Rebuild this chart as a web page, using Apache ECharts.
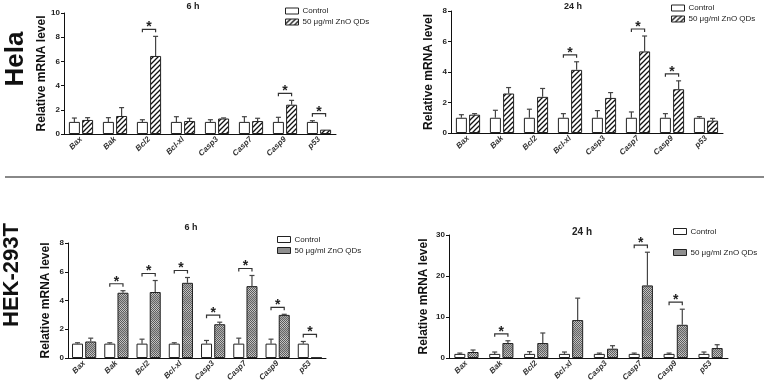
<!DOCTYPE html>
<html>
<head>
    <meta charset="utf-8">
    <title>mRNA level</title>
    <script src="https://cdn.jsdelivr.net/npm/echarts@6/dist/echarts.min.js"></script>
    <style>
        body { margin: 0; background: #fff; }
    </style>
</head>
<body>
<div id="main" style="width: 767px;height:385px;"></div>

<script type="text/javascript">
    // 基因
    var categories = ['Bax', 'Bak', 'Bcl2', 'Bcl-xl', 'Casp3', 'Casp7', 'Casp9', 'p53'];
    var legendNames = ['Control', '50 μg/ml ZnO QDs'];

    // Hela 6 h
    var helaCtrl6 = [1, 1, 1, 1, 1, 1, 1, 1];
    var helaCtrlErr6 = [0.32, 0.35, 0.18, 0.43, 0.18, 0.43, 0.38, 0.1];
    var helaTrt6 = [1.16, 1.49, 6.45, 1.07, 1.28, 1.07, 2.42, 0.36];
    var helaTrtErr6 = [0.19, 0.69, 1.62, 0.23, 0.05, 0.23, 0.36, 0];
    var helaSig6 = [0, 0, 1, 0, 0, 0, 1, 1];

    // Hela 24 h
    var helaCtrl24 = [1, 1, 1, 1, 1, 1, 1, 1];
    var helaCtrlErr24 = [0.2, 0.49, 0.56, 0.27, 0.47, 0.38, 0.27, 0.07];
    var helaTrt24 = [1.2, 2.59, 2.37, 4.14, 2.3, 5.35, 2.87, 0.81];
    var helaTrtErr24 = [0.07, 0.39, 0.55, 0.53, 0.35, 1.01, 0.55, 0.15];
    var helaSig24 = [0, 0, 0, 1, 0, 1, 1, 0];

    // HEK-293T 6 h
    var hekCtrl6 = [1, 1, 1, 1, 1, 1, 1, 1];
    var hekCtrlErr6 = [0.06, 0.06, 0.31, 0.06, 0.22, 0.38, 0.31, 0.15];
    var hekTrt6 = [1.15, 4.54, 4.59, 5.23, 2.35, 5.0, 3.0, 0.03];
    var hekTrtErr6 = [0.23, 0.14, 0.8, 0.37, 0.14, 0.74, 0.04, 0];
    var hekSig6 = [0, 1, 1, 1, 1, 1, 1, 1];

    // HEK-293T 24 h
    var hekCtrl24 = [1, 1, 1, 1, 1, 1, 1, 1];
    var hekCtrlErr24 = [0.2, 0.46, 0.54, 0.46, 0.2, 0.2, 0.2, 0.46];
    var hekTrt24 = [1.46, 3.65, 3.65, 9.25, 2.27, 17.7, 8.1, 2.43];
    var hekTrtErr24 = [0.49, 0.55, 2.45, 5.35, 0.73, 8.1, 3.8, 0.81];
    var hekSig24 = [0, 1, 0, 0, 0, 1, 1, 0];

    // y 轴范围
    var yMax = [10, 8, 8, 30];
    var yInterval = [2, 2, 2, 10];

    var FONT = '"Liberation Sans", Arial, sans-serif';
    var BAR_W = 11;
    var OFF = (BAR_W * 1.2) / 2;

    // 斜线填充
    function makeHatch() {
        var c = document.createElement('canvas');
        c.width = 5; c.height = 5;
        var ctx = c.getContext('2d');
        ctx.fillStyle = '#fff';
        ctx.fillRect(0, 0, 5, 5);
        ctx.strokeStyle = '#111';
        ctx.lineWidth = 1.3;
        ctx.beginPath();
        ctx.moveTo(-1, 6); ctx.lineTo(6, -1);
        ctx.moveTo(-1, 1); ctx.lineTo(1, -1);
        ctx.moveTo(4, 6); ctx.lineTo(6, 4);
        ctx.stroke();
        return { image: c, repeat: 'repeat' };
    }

    // 灰色网点填充
    function makeDots() {
        var c = document.createElement('canvas');
        c.width = 2; c.height = 16;
        var ctx = c.getContext('2d');
        for (var y = 0; y < 16; y++) {
            var dark = y < 8 ? '#5a5a5a' : '#666';
            var light = y < 8 ? '#c4c4c4' : '#aaa';
            for (var x = 0; x < 2; x++) {
                ctx.fillStyle = ((x + y) % 2 === 0) ? dark : light;
                ctx.fillRect(x, y, 1, 1);
            }
        }
        return { image: c, repeat: 'repeat' };
    }

    var hatch = makeHatch();
    var dots = makeDots();

    function renderErr(params, api) {
        var i = api.value(0);
        var band = api.coord([i, 0]);
        var x0 = band[0] - OFF, x1 = band[0] + OFF;
        var t0 = api.coord([i, api.value(1)])[1];
        var e0 = api.coord([i, api.value(1) + api.value(2)])[1];
        var t1 = api.coord([i, api.value(3)])[1];
        var e1 = api.coord([i, api.value(3) + api.value(4)])[1];
        var ls = { stroke: '#444', lineWidth: 1.2 };
        var children = [];
        if (api.value(2) > 0) {
            children.push({ type: 'line', shape: { x1: x0, y1: t0, x2: x0, y2: e0 }, style: ls });
            children.push({ type: 'line', shape: { x1: x0 - 2.5, y1: e0, x2: x0 + 2.5, y2: e0 }, style: ls });
        }
        if (api.value(4) > 0) {
            children.push({ type: 'line', shape: { x1: x1, y1: t1, x2: x1, y2: e1 }, style: ls });
            children.push({ type: 'line', shape: { x1: x1 - 2.5, y1: e1, x2: x1 + 2.5, y2: e1 }, style: ls });
        }
        if (api.value(5)) {
            var yb = Math.min(e0, e1, t0, t1) - 7;
            children.push({
                type: 'polyline',
                shape: { points: [[x0, yb + 3], [x0, yb], [x1, yb], [x1, yb + 3]] },
                style: { stroke: '#333', lineWidth: 1.2, fill: null }
            });
            children.push({
                type: 'text',
                x: (x0 + x1) / 2, y: yb + 5,
                style: { text: '*', font: 'bold 14px ' + FONT, fill: '#222', textAlign: 'center', textVerticalAlign: 'bottom' }
            });
        }
        return { type: 'group', children: children };
    }

    var panels = [
        { ctrl: helaCtrl6, ce: helaCtrlErr6, trt: helaTrt6, te: helaTrtErr6, sig: helaSig6, fill: hatch,
          grid: { left: 64, top: 13, width: 272, height: 121 }, nameGap: 15,
          legend: { left: 285, top: 7, itemGap: 3 } },
        { ctrl: helaCtrl24, ce: helaCtrlErr24, trt: helaTrt24, te: helaTrtErr24, sig: helaSig24, fill: hatch,
          grid: { left: 451, top: 11, width: 272, height: 122 }, nameGap: 16,
          legend: { left: 671, top: 4, itemGap: 3 } },
        { ctrl: hekCtrl6, ce: hekCtrlErr6, trt: hekTrt6, te: hekTrtErr6, sig: hekSig6, fill: dots,
          grid: { left: 68, top: 243, width: 258, height: 115 }, nameGap: 16,
          legend: { left: 277, top: 235.5, itemGap: 3 } },
        { ctrl: hekCtrl24, ce: hekCtrlErr24, trt: hekTrt24, te: hekTrtErr24, sig: hekSig24, fill: dots,
          grid: { left: 449, top: 235, width: 279, height: 123 }, nameGap: 19,
          legend: { left: 673, top: 227.5, itemGap: 13 } }
    ];

    var grids = [], xAxes = [], yAxes = [], series = [], legends = [];
    panels.forEach(function (p, k) {
        grids.push(p.grid);
        xAxes.push({
            gridIndex: k, type: 'category', data: categories,
            axisLine: { lineStyle: { color: '#111', width: 1 } },
            axisTick: { alignWithLabel: true, length: 3, lineStyle: { color: '#111' } },
            axisLabel: { rotate: 45, fontStyle: 'italic', fontWeight: 'bold', fontSize: 8, margin: 4, color: '#333', fontFamily: FONT }
        });
        yAxes.push({
            gridIndex: k, type: 'value', min: 0, max: yMax[k], interval: yInterval[k],
            axisLine: { show: true, lineStyle: { color: '#111', width: 1 } },
            axisTick: { show: true, length: 3, lineStyle: { color: '#111' } },
            axisLabel: { fontSize: 8, fontWeight: 'bold', margin: 4, color: '#222', fontFamily: FONT },
            splitLine: { show: false },
            name: 'Relative mRNA level', nameLocation: 'middle', nameGap: p.nameGap,
            nameTextStyle: { fontSize: 12, fontWeight: 'bold', color: '#111', fontFamily: FONT }
        });
        series.push({
            name: legendNames[0], type: 'bar', xAxisIndex: k, yAxisIndex: k,
            data: p.ctrl, barWidth: BAR_W, barGap: '20%',
            itemStyle: { color: '#fff', borderColor: '#222', borderWidth: 1 }
        });
        series.push({
            name: legendNames[1], type: 'bar', xAxisIndex: k, yAxisIndex: k,
            data: p.trt, barWidth: BAR_W, barGap: '20%',
            itemStyle: { color: p.fill, borderColor: '#222', borderWidth: 1 }
        });
        series.push({
            type: 'custom', xAxisIndex: k, yAxisIndex: k, z: 5,
            renderItem: renderErr,
            data: categories.map(function (c, i) {
                return [i, p.ctrl[i], p.ce[i], p.trt[i], p.te[i], p.sig[i]];
            })
        });
        legends.push({
            left: p.legend.left, top: p.legend.top, orient: 'vertical', padding: 0,
            itemWidth: 13, itemHeight: 6, itemGap: p.legend.itemGap, selectedMode: false,
            textStyle: { fontSize: 8, color: '#222', fontFamily: FONT, padding: [0, 0, 0, -1] },
            data: [
                { name: legendNames[0], icon: 'rect', itemStyle: { color: '#fff', borderColor: '#222', borderWidth: 1 } },
                { name: legendNames[1], icon: 'rect', itemStyle: { color: p.fill, borderColor: '#222', borderWidth: 1 } }
            ]
        });
    });

    var titleFont = 'bold 9px ' + FONT;
    var option = {
        animation: false,
        backgroundColor: '#fff',
        textStyle: { fontFamily: FONT },
        grid: grids,
        xAxis: xAxes,
        yAxis: yAxes,
        legend: legends,
        series: series,
        graphic: [
            { type: 'text', x: 193, y: 7, style: { text: '6 h', font: titleFont, fill: '#222', textAlign: 'center', textVerticalAlign: 'middle' } },
            { type: 'text', x: 573, y: 7, style: { text: '24 h', font: titleFont, fill: '#222', textAlign: 'center', textVerticalAlign: 'middle' } },
            { type: 'text', x: 191, y: 228, style: { text: '6 h', font: titleFont, fill: '#222', textAlign: 'center', textVerticalAlign: 'middle' } },
            { type: 'text', x: 582, y: 232, style: { text: '24 h', font: 'bold 10px ' + FONT, fill: '#222', textAlign: 'center', textVerticalAlign: 'middle' } },
            { type: 'text', x: 16, y: 59, rotation: Math.PI / 2, style: { text: 'Hela', font: 'bold 26px ' + FONT, fill: '#111', textAlign: 'center', textVerticalAlign: 'middle' } },
            { type: 'text', x: 12, y: 275, rotation: Math.PI / 2, style: { text: 'HEK-293T', font: 'bold 22px ' + FONT, fill: '#111', textAlign: 'center', textVerticalAlign: 'middle' } },
            { type: 'line', shape: { x1: 5, y1: 177, x2: 764, y2: 177 }, style: { stroke: '#888', lineWidth: 2 } }
        ]
    };

    var chart = echarts.init(document.getElementById('main'));
    chart.setOption(option);
</script>
</body>
</html>
